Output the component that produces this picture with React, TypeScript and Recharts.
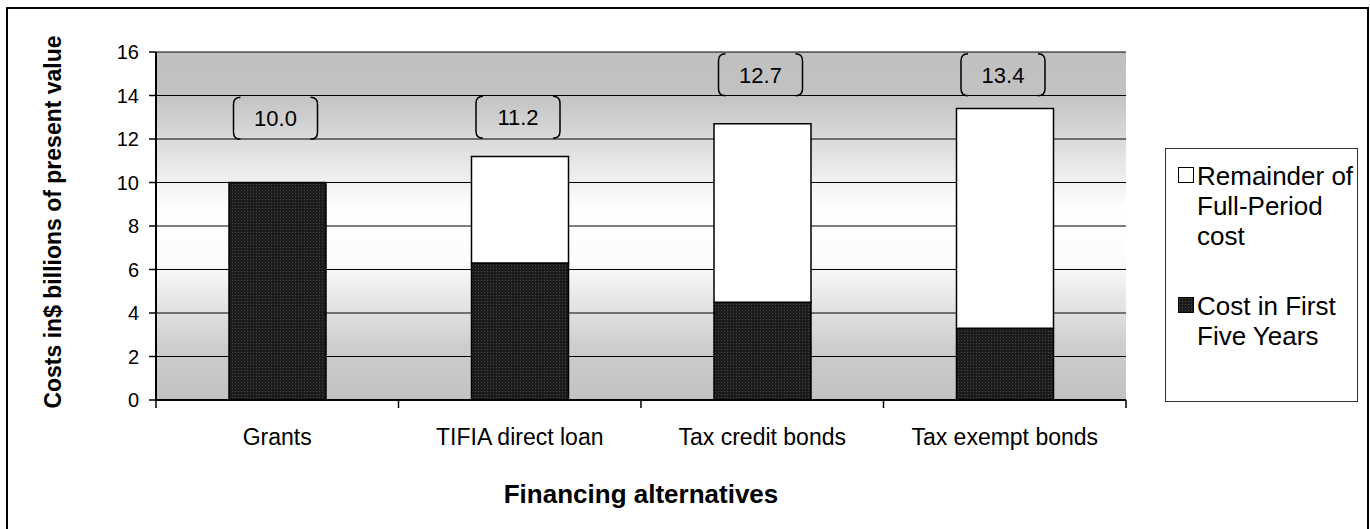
import React from 'react';
import {
  BarChart,
  Bar,
  XAxis,
  YAxis,
  CartesianGrid,
  LabelList,
  Label,
} from 'recharts';

const categories = ['Grants', 'TIFIA direct loan', 'Tax credit bonds', 'Tax exempt bonds'];
const firstFiveYears = [10.0, 6.3, 4.5, 3.3];
const remainderFullPeriod = [0, 4.9, 8.2, 10.1];
const totalLabels = [10.0, 11.2, 12.7, 13.4];
// where Excel left each callout (value units, centre of the box)
const labelAt = [12.95, 13.0, 14.95, 14.95];
const yTicks = [0, 2, 4, 6, 8, 10, 12, 14, 16];
const seriesNames = ['Remainder of Full-Period cost', 'Cost in First Five Years'];

const FONT = '"Liberation Sans", Arial, Helvetica, sans-serif';
const W = 1370;
const H = 529;
const margin = { top: 52, right: 244, bottom: 0, left: 0 };
const Y_AXIS_W = 156;
const BAND = (W - margin.left - margin.right - Y_AXIS_W) / categories.length;

const data = categories.map((name, i) => ({
  name,
  first: firstFiveYears[i],
  remainder: remainderFullPeriod[i],
}));

const CategoryTick = (props: any) => {
  const { x, y, payload, index } = props;
  const half = BAND / 2;
  return (
    <g>
      <line x1={x - half} y1={y} x2={x - half} y2={y + 8} stroke="#000" strokeWidth={1.5} />
      {index === categories.length - 1 && (
        <line x1={x + half} y1={y} x2={x + half} y2={y + 8} stroke="#000" strokeWidth={1.5} />
      )}
      <text x={x} y={y + 45} textAnchor="middle" fontSize={23} fontFamily={FONT} fill="#000">
        {payload.value}
      </text>
    </g>
  );
};

// bracket-style callout placed from the dark bar's own scale
const TotalCallout = (props: any) => {
  const vb = props.viewBox || props;
  const { x, y, width, height } = vb;
  const index = props.index;
  const value = firstFiveYears[index];
  if (!value || height == null) return null;
  const perUnit = height / value;
  const zeroY = y + height;
  const cy = zeroY - labelAt[index] * perUnit;
  const cx = x + width / 2 - 2;
  const w = 84;
  const h = 42;
  const x0 = cx - w / 2;
  const x1 = cx + w / 2;
  const y0 = cy - h / 2;
  const y1 = cy + h / 2;
  const r = 7;
  return (
    <g>
      <path
        d={`M${x0 + r},${y0} Q${x0},${y0} ${x0},${y0 + r} L${x0},${y1 - r} Q${x0},${y1} ${x0 + r},${y1}`}
        fill="none"
        stroke="#000"
        strokeWidth={1.5}
      />
      <path
        d={`M${x1 - r},${y0} Q${x1},${y0} ${x1},${y0 + r} L${x1},${y1 - r} Q${x1},${y1} ${x1 - r},${y1}`}
        fill="none"
        stroke="#000"
        strokeWidth={1.5}
      />
      <text x={cx} y={cy + 8} textAnchor="middle" fontSize={22} fontFamily={FONT} fill="#000">
        {totalLabels[index].toFixed(1)}
      </text>
    </g>
  );
};

const Swatch = ({ dark }: { dark: boolean }) => (
  <svg width={16} height={16} style={{ display: 'block' }}>
    <defs>
      <pattern id="legendDots" width={3} height={3} patternUnits="userSpaceOnUse">
        <rect width={3} height={3} fill="#1b1b1b" />
        <rect x={1} y={1} width={1} height={1} fill="#4a4a4a" />
      </pattern>
    </defs>
    <rect x={0.5} y={0.5} width={15} height={15} fill={dark ? 'url(#legendDots)' : '#fff'} stroke="#000" strokeWidth={1} />
  </svg>
);

export default function App() {
  return (
    <div
      style={{
        position: 'fixed',
        left: 0,
        top: 0,
        width: W,
        height: H,
        overflow: 'hidden',
        background: '#fff',
        fontFamily: FONT,
      }}
    >
      <div
        style={{
          position: 'absolute',
          left: 6,
          top: 7,
          width: 1363,
          height: 600,
          border: '2px solid #000',
          boxSizing: 'border-box',
        }}
      />
      <div style={{ position: 'absolute', left: 0, top: 0 }}>
        <BarChart width={W} height={H} data={data} margin={margin} barSize={97}>
          <defs>
            <linearGradient id="plotBg" x1="0" y1="0" x2="0" y2="1">
              <stop offset="0" stopColor="#c0c0c0" />
              <stop offset="0.12" stopColor="#c2c2c2" />
              <stop offset="0.45" stopColor="#ffffff" />
              <stop offset="0.6" stopColor="#fcfcfc" />
              <stop offset="0.85" stopColor="#cdcdcd" />
              <stop offset="1" stopColor="#c2c2c2" />
            </linearGradient>
            <pattern id="darkDots" width={3} height={3} patternUnits="userSpaceOnUse">
              <rect width={3} height={3} fill="#1b1b1b" />
              <rect x={1} y={1} width={1} height={1} fill="#4a4a4a" />
            </pattern>
          </defs>
          <CartesianGrid
            vertical={false}
            stroke="#000"
            strokeWidth={1}
            fill="url(#plotBg)"
            fillOpacity={1}
          />
          <XAxis
            dataKey="name"
            height={H - 400}
            tickLine={false}
            tickSize={0}
            tickMargin={0}
            axisLine={{ stroke: '#000', strokeWidth: 2 }}
            tick={<CategoryTick />}
            interval={0}
          >
            <Label
              content={({ viewBox }: any) => (
                <text
                  x={viewBox.x + viewBox.width / 2}
                  y={viewBox.y + 103}
                  textAnchor="middle"
                  fontSize={26}
                  fontWeight="bold"
                  fontFamily={FONT}
                  fill="#000"
                >
                  Financing alternatives
                </text>
              )}
            />
          </XAxis>
          <YAxis
            width={Y_AXIS_W}
            domain={[0, 16]}
            ticks={yTicks}
            interval={0}
            tickSize={7}
            tickMargin={10}
            tickLine={{ stroke: '#000', strokeWidth: 1.5 }}
            axisLine={{ stroke: '#000', strokeWidth: 2 }}
            tick={{ fontSize: 20, fontFamily: FONT, fill: '#000' }}
          >
            <Label
              content={({ viewBox }: any) => {
                const cx = viewBox.x + 61;
                const cy = viewBox.y + viewBox.height / 2 - 4;
                return (
                  <text
                    x={cx}
                    y={cy}
                    transform={`rotate(-90 ${cx} ${cy})`}
                    textAnchor="middle"
                    fontSize={23}
                    fontWeight="bold"
                    fontFamily={FONT}
                    fill="#000"
                  >
                    Costs in$ billions of present value
                  </text>
                );
              }}
            />
          </YAxis>
          <YAxis
            yAxisId="frame"
            orientation="right"
            width={0}
            domain={[0, 16]}
            tick={false}
            tickLine={false}
            axisLine={{ stroke: '#000', strokeWidth: 2 }}
          />
          <Bar
            dataKey="first"
            name={seriesNames[1]}
            stackId="cost"
            fill="url(#darkDots)"
            stroke="#000"
            strokeWidth={1.5}
            isAnimationActive={false}
          >
            <LabelList dataKey="first" content={<TotalCallout />} />
          </Bar>
          <Bar
            dataKey="remainder"
            name={seriesNames[0]}
            stackId="cost"
            fill="#ffffff"
            stroke="#000"
            strokeWidth={1.5}
            isAnimationActive={false}
          />
        </BarChart>
      </div>
      <div
        style={{
          position: 'absolute',
          left: 1165,
          top: 148,
          width: 193,
          height: 254,
          border: '1px solid #333',
          boxSizing: 'border-box',
          background: '#fff',
          fontSize: 26,
          lineHeight: '30px',
          color: '#000',
        }}
      >
        {seriesNames.map((name, i) => (
          <div
            key={name}
            style={{
              position: 'absolute',
              left: 12,
              top: i === 0 ? 12 : 142,
              display: 'flex',
              alignItems: 'flex-start',
            }}
          >
            <div style={{ marginTop: 6, marginRight: 3 }}>
              <Swatch dark={i === 1} />
            </div>
            <div style={{ width: 160 }}>{name}</div>
          </div>
        ))}
      </div>
    </div>
  );
}
